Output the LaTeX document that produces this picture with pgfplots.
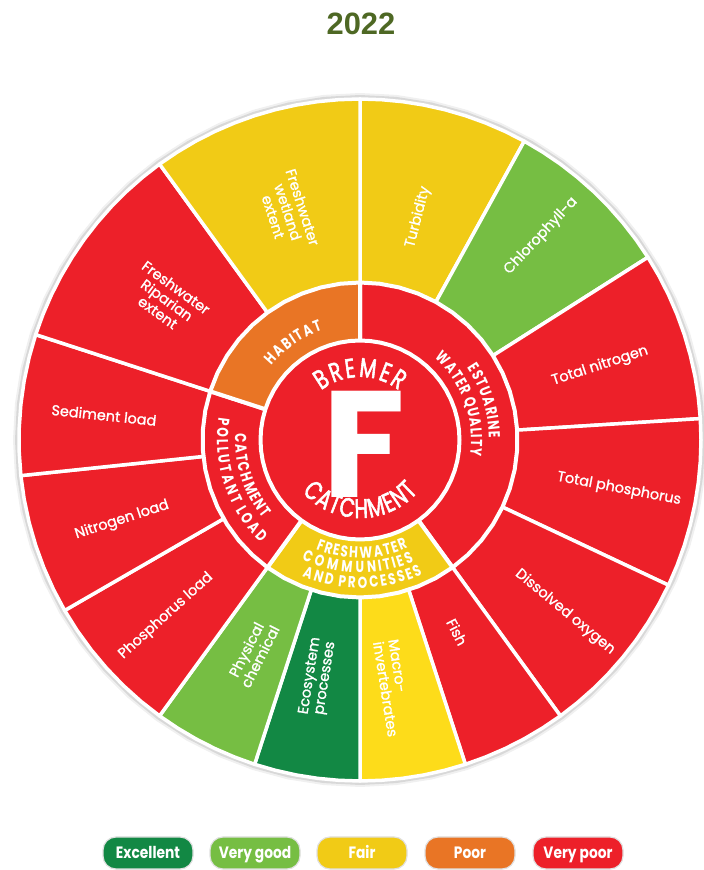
\documentclass[border=0pt]{standalone}
\usepackage{fontspec}
\usepackage{pgfplots}
\usepackage{pgfplotstable}
\pgfplotsset{compat=1.18}
\usetikzlibrary{decorations.text}
\setmainfont{Poppins}
\newfontfamily\titlefont{Liberation Sans}
\newfontfamily\ringfont[FakeStretch=0.76]{Poppins}
\newfontfamily\centrefont[FakeStretch=0.72, FakeBold=2]{Poppins}
\newfontfamily\labelfont[FakeBold=1.2]{Poppins}
\newfontfamily\legfont[FakeStretch=0.84]{Poppins}

\definecolor{vpoor}{RGB}{237,32,41}
\definecolor{poor}{RGB}{233,117,37}
\definecolor{fair}{RGB}{241,203,22}
\definecolor{fairlight}{RGB}{253,220,26}
\definecolor{vgood}{RGB}{118,190,67}
\definecolor{excellent}{RGB}{18,136,68}
\definecolor{titlegreen}{RGB}{78,104,36}

\newcommand\lfont{\labelfont\fontsize{14.5}{15.5}\selectfont}
\newcommand\midf{\ringfont\bfseries\fontsize{16}{16}\selectfont}
\newcommand\bigf{\centrefont\fontsize{27}{27}\selectfont}

% circle outline points (angle, radius) for shadow and centre disc
\pgfplotstableread{
a s1 s2 c
0 347 345 99.5
6 347 345 99.5
12 347 345 99.5
18 347 345 99.5
24 347 345 99.5
30 347 345 99.5
36 347 345 99.5
42 347 345 99.5
48 347 345 99.5
54 347 345 99.5
60 347 345 99.5
66 347 345 99.5
72 347 345 99.5
78 347 345 99.5
84 347 345 99.5
90 347 345 99.5
96 347 345 99.5
102 347 345 99.5
108 347 345 99.5
114 347 345 99.5
120 347 345 99.5
126 347 345 99.5
132 347 345 99.5
138 347 345 99.5
144 347 345 99.5
150 347 345 99.5
156 347 345 99.5
162 347 345 99.5
168 347 345 99.5
174 347 345 99.5
180 347 345 99.5
186 347 345 99.5
192 347 345 99.5
198 347 345 99.5
204 347 345 99.5
210 347 345 99.5
216 347 345 99.5
222 347 345 99.5
228 347 345 99.5
234 347 345 99.5
240 347 345 99.5
246 347 345 99.5
252 347 345 99.5
258 347 345 99.5
264 347 345 99.5
270 347 345 99.5
276 347 345 99.5
282 347 345 99.5
288 347 345 99.5
294 347 345 99.5
300 347 345 99.5
306 347 345 99.5
312 347 345 99.5
318 347 345 99.5
324 347 345 99.5
330 347 345 99.5
336 347 345 99.5
342 347 345 99.5
348 347 345 99.5
354 347 345 99.5
}\circpts

\pgfplotsset{
  wedge/.style={data cs=polar, fill=#1, draw=white, line width=3.5bp, line join=round},
  ring/.style={data cs=polar, fill=#1, draw=white, line width=4bp, line join=round},
}
\tikzset{
  olab/.style={text=white, font=\lfont, align=center, inner sep=0pt},
  pill/.style={minimum width=90bp, minimum height=32bp, rounded corners=13bp, draw=black!12,
    line width=1.2bp, text=white, inner sep=0pt, text height=11.5bp, text depth=0bp,
    font=\legfont\bfseries\fontsize{16.5}{16.5}\selectfont},
  arctext/.style 2 args={decorate, decoration={text effects along path, text={#2},
    text effects/.cd, text along path, fit text to path,
    characters={text=white, font=#1, inner sep=0pt}}},
}

\begin{document}
\begin{tikzpicture}
\begin{axis}[
    x=1bp, y=1bp,
    xmin=-360, xmax=344,
    ymin=-430, ymax=440,
    hide axis,
    clip=false,
]
% soft shadow
\addplot[data cs=polar, fill=black, fill opacity=0.06, draw=none] table[x=a, y=s1] {\circpts} -- cycle;
\addplot[data cs=polar, fill=black, fill opacity=0.10, draw=none] table[x=a, y=s2] {\circpts} -- cycle;

% outer ring: indicators
\addplot[wedge=fair] coordinates {(0,0) (90,341) (86.4,341) (82.8,341) (79.2,341) (75.6,341) (72,341) (68.4,341) (64.8,341) (61.2,341)} -- cycle;
\addplot[wedge=vgood] coordinates {(0,0) (61.2,341) (57.6,341) (54,341) (50.4,341) (46.8,341) (43.2,341) (39.6,341) (36,341) (32.4,341)} -- cycle;
\addplot[wedge=vpoor] coordinates {(0,0) (32.4,341) (28.8,341) (25.2,341) (21.6,341) (18,341) (14.4,341) (10.8,341) (7.2,341) (3.6,341)} -- cycle;
\addplot[wedge=vpoor] coordinates {(0,0) (3.6,341) (0,341) (-3.6,341) (-7.2,341) (-10.8,341) (-14.4,341) (-18,341) (-21.6,341) (-25.2,341)} -- cycle;
\addplot[wedge=vpoor] coordinates {(0,0) (-25.2,341) (-28.8,341) (-32.4,341) (-36,341) (-39.6,341) (-43.2,341) (-46.8,341) (-50.4,341) (-54,341)} -- cycle;
\addplot[wedge=vpoor] coordinates {(0,0) (-54,341) (-57.6,341) (-61.2,341) (-64.8,341) (-68.4,341) (-72,341)} -- cycle;
\addplot[wedge=fairlight] coordinates {(0,0) (-72,341) (-75.6,341) (-79.2,341) (-82.8,341) (-86.4,341) (-90,341)} -- cycle;
\addplot[wedge=excellent] coordinates {(0,0) (-90,341) (-93.6,341) (-97.2,341) (-100.8,341) (-104.4,341) (-108,341)} -- cycle;
\addplot[wedge=vgood] coordinates {(0,0) (-108,341) (-111.6,341) (-115.2,341) (-118.8,341) (-122.4,341) (-126,341)} -- cycle;
\addplot[wedge=vpoor] coordinates {(0,0) (-126,341) (-130,341) (-134,341) (-138,341) (-142,341) (-146,341) (-150,341)} -- cycle;
\addplot[wedge=vpoor] coordinates {(0,0) (-150,341) (-154,341) (-158,341) (-162,341) (-166,341) (-170,341) (-174,341)} -- cycle;
\addplot[wedge=vpoor] coordinates {(0,0) (-174,341) (-178,341) (-182,341) (-186,341) (-190,341) (-194,341) (-198,341)} -- cycle;
\addplot[wedge=vpoor] coordinates {(0,0) (162,341) (158.4,341) (154.8,341) (151.2,341) (147.6,341) (144,341) (140.4,341) (136.8,341) (133.2,341) (129.6,341) (126,341)} -- cycle;
\addplot[wedge=fair] coordinates {(0,0) (126,341) (122.4,341) (118.8,341) (115.2,341) (111.6,341) (108,341) (104.4,341) (100.8,341) (97.2,341) (93.6,341) (90,341)} -- cycle;

% middle ring: groups
\addplot[ring=vpoor] coordinates {(0,0) (90,157.5) (82.8,157.5) (75.6,157.5) (68.4,157.5) (61.2,157.5) (54,157.5) (46.8,157.5) (39.6,157.5) (32.4,157.5) (25.2,157.5) (18,157.5) (10.8,157.5) (3.6,157.5) (-3.6,157.5) (-10.8,157.5) (-18,157.5) (-25.2,157.5) (-32.4,157.5) (-39.6,157.5) (-46.8,157.5) (-54,157.5)} -- cycle;
\addplot[ring=fair] coordinates {(0,0) (-54,157.5) (-61.2,157.5) (-68.4,157.5) (-75.6,157.5) (-82.8,157.5) (-90,157.5) (-97.2,157.5) (-104.4,157.5) (-111.6,157.5) (-118.8,157.5) (-126,157.5)} -- cycle;
\addplot[ring=vpoor] coordinates {(0,0) (-126,157.5) (-133.2,157.5) (-140.4,157.5) (-147.6,157.5) (-154.8,157.5) (-162,157.5) (-169.2,157.5) (-176.4,157.5) (-183.6,157.5) (-190.8,157.5) (-198,157.5)} -- cycle;
\addplot[ring=poor] coordinates {(0,0) (162,157.5) (154.8,157.5) (147.6,157.5) (140.4,157.5) (133.2,157.5) (126,157.5) (118.8,157.5) (111.6,157.5) (104.4,157.5) (97.2,157.5) (90,157.5)} -- cycle;

% centre disc: overall grade
\addplot[ring=vpoor] table[x=a, y=c] {\circpts} -- cycle;

% outer labels
\node[olab, rotate=75.6] at (axis cs:58,223) {Turbidity};
\node[olab, rotate=46.8] at (axis cs:181,204) {Chlorophyll-a};
\node[olab, rotate=18] at (axis cs:240,74) {Total nitrogen};
\node[olab, rotate=-10.8] at (axis cs:259,-49) {Total phosphorus};
\node[olab, rotate=-39.6] at (axis cs:205,-172) {Dissolved oxygen};
\node[olab, rotate=-63] at (axis cs:97,-192) {Fish};
\node[olab, rotate=-81, align=left] at (axis cs:33,-248) {Macro-\\invertebrates};
\node[olab, rotate=81] at (axis cs:-42,-237) {Ecosystem\\processes};
\node[olab, rotate=63] at (axis cs:-107,-213) {Physical\\chemical};
\node[olab, rotate=42] at (axis cs:-194,-176) {Phosphorus load};
\node[olab, rotate=18] at (axis cs:-238,-80) {Nitrogen load};
\node[olab, rotate=-6] at (axis cs:-256,25) {Sediment load};
\node[olab, rotate=-36] at (axis cs:-193,140) {Freshwater\\Riparian\\extent};
\node[olab, rotate=-72] at (axis cs:-72,228) {Freshwater\\wetland\\extent};

% middle ring labels (curved)
\path[arctext={\midf}{HABITAT}] (axis cs:0,0) ++(140:116bp) arc[start angle=140, end angle=109, radius=116bp];
\path[arctext={\midf}{ESTUARINE}] (axis cs:0,0) ++(34:129bp) arc[start angle=34, end angle=1, radius=129bp];
\path[arctext={\midf}{WATER QUALITY}] (axis cs:0,0) ++(48:111bp) arc[start angle=48, end angle=-8, radius=111bp];
\path[arctext={\midf}{CATCHMENT}] (axis cs:0,0) ++(177:125bp) arc[start angle=177, end angle=219, radius=125bp];
\path[arctext={\midf}{POLLUTANT LOAD}] (axis cs:0,0) ++(171:143bp) arc[start angle=171, end angle=226, radius=143bp];
\path[arctext={\midf}{FRESHWATER}] (axis cs:0,0) ++(248:118bp) arc[start angle=248, end angle=294, radius=118bp];
\path[arctext={\midf}{COMMUNITIES}] (axis cs:0,0) ++(244:133bp) arc[start angle=244, end angle=294, radius=133bp];
\path[arctext={\midf}{AND PROCESSES}] (axis cs:0,0) ++(247:148bp) arc[start angle=247, end angle=295, radius=148bp];

% centre
\path[arctext={\bigf}{BREMER}] (axis cs:0,0) ++(128:63bp) arc[start angle=128, end angle=52, radius=63bp];
\path[arctext={\bigf}{CATCHMENT}] (axis cs:0,0) ++(222:78bp) arc[start angle=222, end angle=318, radius=78bp];
\node[text=white, inner sep=0pt, font=\bfseries\fontsize{152}{152}\selectfont] at (axis cs:4,-4) {F};

% title
\node[text=titlegreen, font=\titlefont\bfseries\fontsize{31}{31}\selectfont] at (axis cs:1,416) {2022};

% legend
\node[pill, fill=excellent] at (axis cs:-212,-413) {Excellent};
\node[pill, fill=vgood] at (axis cs:-105,-413) {Very good};
\node[pill, fill=fair] at (axis cs:2,-413) {Fair};
\node[pill, fill=poor] at (axis cs:110,-413) {Poor};
\node[pill, fill=vpoor] at (axis cs:218,-413) {Very poor};
\end{axis}
\pgfresetboundingbox
\path (current axis.south west) rectangle (current axis.north east);
\end{tikzpicture}
\end{document}
